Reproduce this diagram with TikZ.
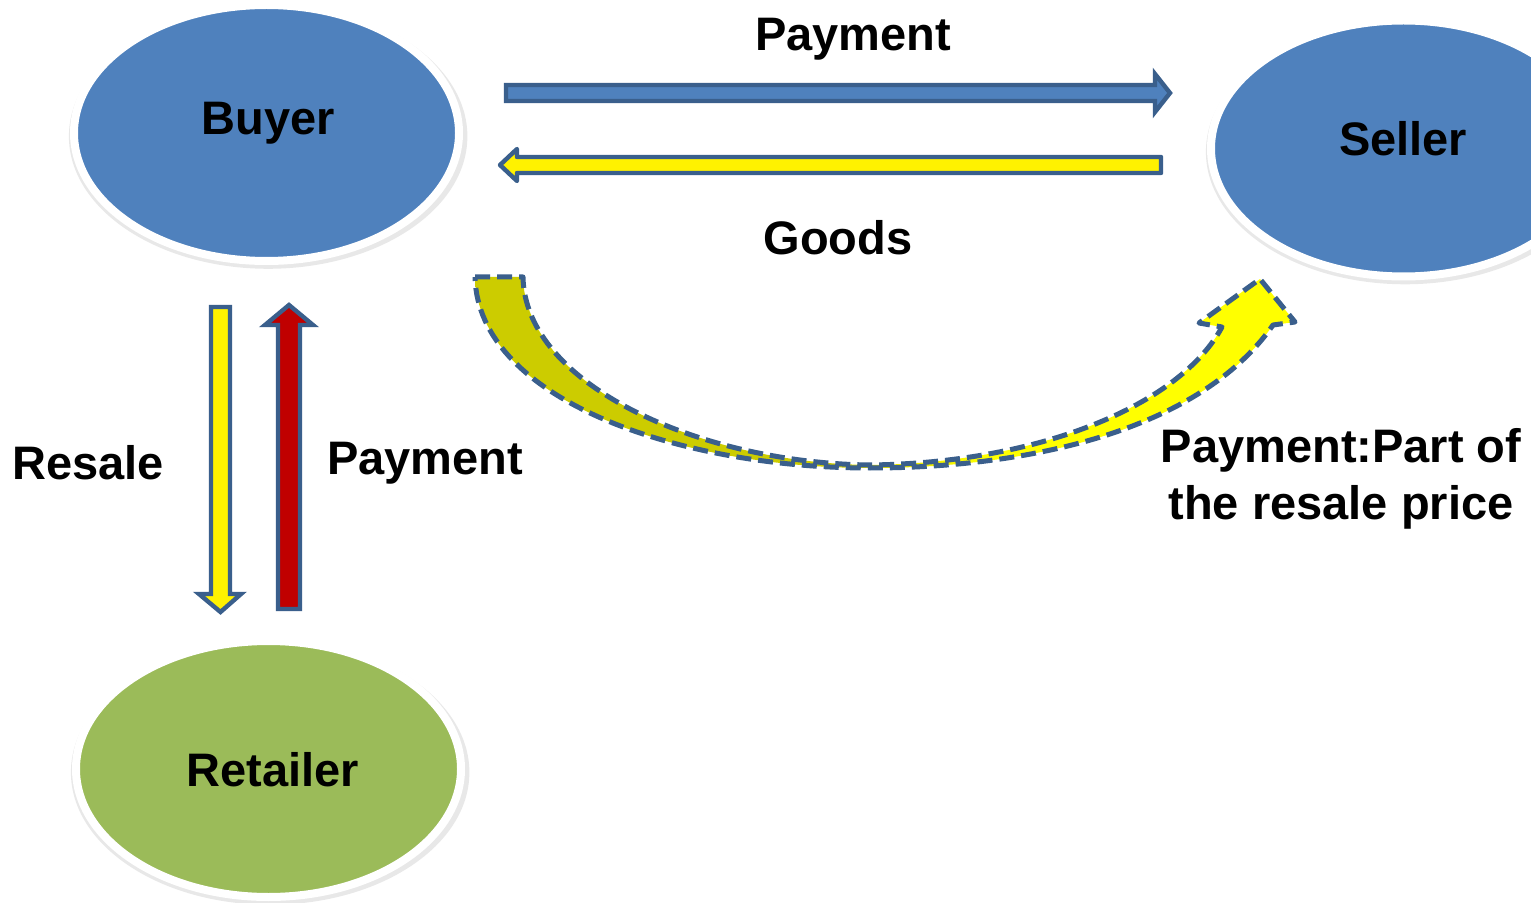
\documentclass[tikz,border=0pt]{standalone}
\usepackage{fontspec}
\setmainfont{Liberation Sans}
\usetikzlibrary{shapes.geometric,shadows}
\definecolor{fillblue}{HTML}{4F81BD}
\definecolor{edgeblue}{HTML}{3A5F8C}
\definecolor{fillgreen}{HTML}{9BBB59}
\definecolor{darkred}{HTML}{C00000}
\definecolor{olv}{HTML}{CCCC00}
\pgfdeclarehorizontalshading{ywash}{100bp}{color(0bp)=(olv); color(25bp)=(olv); color(47bp)=(olv); color(56bp)=(yellow); color(100bp)=(yellow)}
\tikzset{
  party/.style={ellipse, draw=white, line width=4pt, minimum width=192.5pt, minimum height=128pt, inner sep=0pt,
    drop shadow={opacity=0.18, shadow scale=1.035, shadow xshift=0.8pt, shadow yshift=-1.6pt}},
  lbl/.style={font=\fontsize{23.5pt}{28pt}\selectfont\bfseries, inner sep=0pt, anchor=base},
  blockarrow/.style={draw=edgeblue, line width=2.2pt, line join=miter},
  curvearrow/.style={draw=edgeblue, line width=2.5pt, dash pattern=on 7.5pt off 3.5pt, shading=ywash, line join=round}
}
\begin{document}
\begin{tikzpicture}[x=0.5pt, y=-0.5pt]
\path[use as bounding box] (0,0) rectangle (1531,903);
\clip (0,0) rectangle (1531,903);
\fill[white] (0,0) rectangle (1531,903);

% parties
\node[party, fill=fillblue] (buyer) at (266.5,133) {};
\node[party, fill=fillblue] (seller) at (1403.5,148.5) {};
\node[party, fill=fillgreen] (retailer) at (268.5,769) {};

\node[lbl] (tbuyer) at (268,135) {Buyer};
\node[lbl] (tseller) at (1403,156) {Seller};
\node[lbl] (tretailer) at (273,786) {Retailer};

% horizontal block arrows
\draw[blockarrow, fill=fillblue] (506,85) -- (1155,85) -- (1155,74) -- (1170,93) -- (1155,112) -- (1155,101) -- (506,101) -- cycle;
\draw[blockarrow, fill=yellow, line join=round] (1161,157) -- (517,157) -- (517,149) -- (500,165) -- (517,181) -- (517,173) -- (1161,173) -- cycle;

% vertical block arrows
\draw[blockarrow, fill=yellow] (211,307) -- (230,307) -- (230,594) -- (241,594) -- (220.5,612) -- (199,594) -- (211,594) -- cycle;
\draw[blockarrow, fill=darkred] (278,609) -- (278,325) -- (265,325) -- (289,305) -- (313,325) -- (300,325) -- (300,609) -- cycle;

% curved arrow
\path[curvearrow] (475,277) -- (523,277) .. controls (525,385) and (700,463) .. (870,465)
  .. controls (1040,463) and (1180,405) .. (1222,327) -- (1199,323) -- (1260,279) -- (1295,322) -- (1273,325)
  .. controls (1200,430) and (1030,468) .. (870,468) .. controls (680,468) and (478,400) .. (475,277) -- cycle;

% labels
\node[lbl] (lpay) at (853,51) {Payment};
\node[lbl] (lgoods) at (838,255) {Goods};
\node[lbl] (lresale) at (88,480) {Resale};
\node[lbl] (lpay2) at (425,474) {Payment};
\node[lbl] (lpart1) at (1341,462) {Payment:Part of};
\node[lbl] (lpart2) at (1341,519) {the resale price};
\end{tikzpicture}
\end{document}
